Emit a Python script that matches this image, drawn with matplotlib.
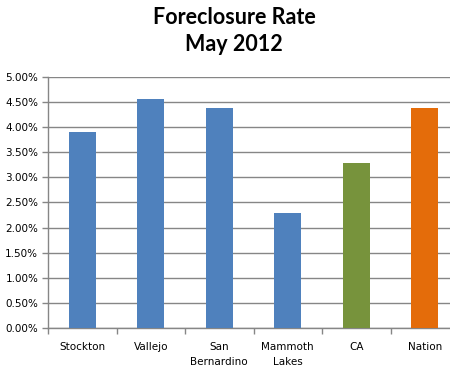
import matplotlib
matplotlib.use('Agg')
import matplotlib.pyplot as plt
import numpy as np

# data
cities = ['Stockton', 'Vallejo', 'San\nBernardino', 'Mammoth\nLakes', 'CA', 'Nation']
rates = [3.90, 4.57, 4.38, 2.29, 3.29, 4.38]
colors = ['#4F81BD', '#4F81BD', '#4F81BD', '#4F81BD', '#77933C', '#E46C0A']
yticks = [0.0, 0.5, 1.0, 1.5, 2.0, 2.5, 3.0, 3.5, 4.0, 4.5, 5.0]

fig = plt.figure(figsize=(4.5, 3.78), dpi=100)
ax = fig.add_axes([48/450, 1-328/378, 411/450, 251/378])

x = np.arange(len(cities))
ax.bar(x, rates, width=0.4, color=colors, zorder=3)

ax.set_xlim(-0.5, len(cities) - 0.5)
ax.set_ylim(0, 5.0)
ax.set_yticks(yticks)
ax.set_yticklabels(['%.2f%%' % v for v in yticks])
ax.yaxis.grid(True, color='#868686', linewidth=1.0, zorder=0)

# category labels centred, tick marks on boundaries
ax.set_xticks(x)
ax.set_xticklabels(cities, fontsize=7.5, family='DejaVu Sans', linespacing=1.6)
ax.tick_params(axis='x', length=0, pad=10)
ax.set_xticks(np.arange(len(cities) + 1) - 0.5, minor=True)
ax.tick_params(axis='x', which='minor', length=4, color='#868686', width=1.0)
ax.tick_params(axis='y', length=4, color='#868686', width=1.0, labelsize=7.5, pad=3)

for side in ['top', 'right']:
    ax.spines[side].set_visible(False)
for side in ['left', 'bottom']:
    ax.spines[side].set_color('#868686')
    ax.spines[side].set_linewidth(1.0)

fig.text(234/450, 1-31/378, 'Foreclosure Rate\nMay 2012', ha='center', va='center',
         fontsize=15.5, fontweight='bold', family='Lato', linespacing=1.3)

plt.savefig('out.png', dpi=100)
